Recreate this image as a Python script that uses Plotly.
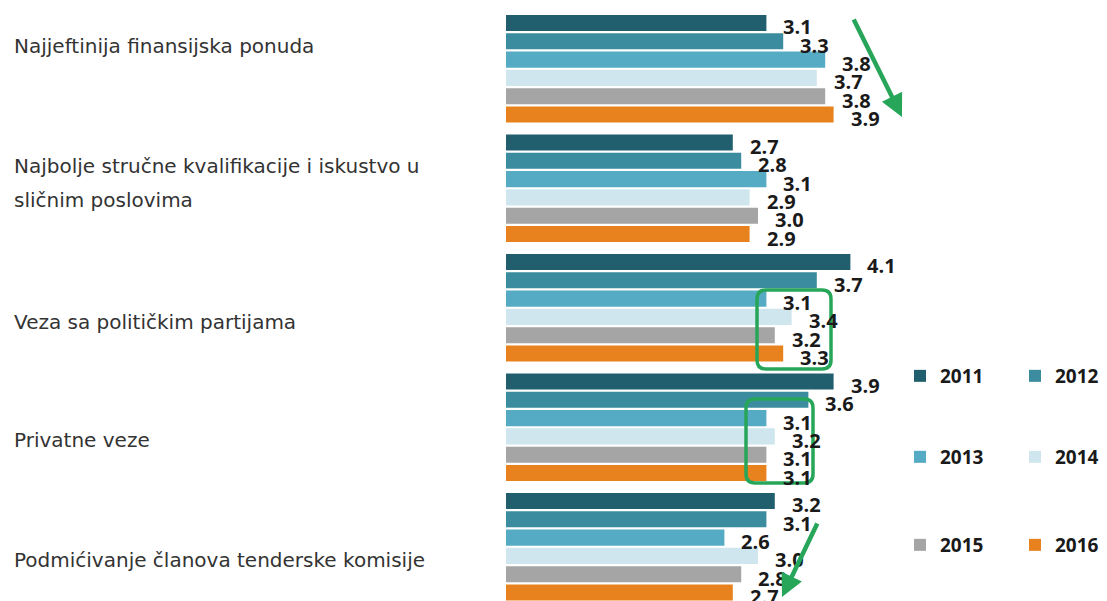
import plotly.graph_objects as go

categories = [
    "Najjeftinija finansijska ponuda",
    "Najbolje stručne kvalifikacije i iskustvo u sličnim poslovima",
    "Veza sa političkim partijama",
    "Privatne veze",
    "Podmićivanje članova tenderske komisije",
]
category_lines = [
    ["Najjeftinija finansijska ponuda"],
    ["Najbolje stručne kvalifikacije i iskustvo u", "sličnim poslovima"],
    ["Veza sa političkim partijama"],
    ["Privatne veze"],
    ["Podmićivanje članova tenderske komisije"],
]
years = ["2011", "2012", "2013", "2014", "2015", "2016"]
v2011 = [3.1, 2.7, 4.1, 3.9, 3.2]
v2012 = [3.3, 2.8, 3.7, 3.6, 3.1]
v2013 = [3.8, 3.1, 3.1, 3.1, 2.6]
v2014 = [3.7, 2.9, 3.4, 3.2, 3.0]
v2015 = [3.8, 3.0, 3.2, 3.1, 2.8]
v2016 = [3.9, 2.9, 3.3, 3.1, 2.7]
series = [v2011, v2012, v2013, v2014, v2015, v2016]

colors = ["#215f6e", "#3a8c9e", "#55abc3", "#cfe6ef", "#a5a5a5", "#e8821e"]
legend_ids = ["legend", "legend", "legend2", "legend2", "legend3", "legend3"]

W, H = 1107, 601
ML, MT = 506, 9
px_per_unit = 84.0
cat_px = 119.5
plot_w = W - ML
plot_h = H - MT
x_max = plot_w / px_per_unit
y_bottom = -0.5 + plot_h / cat_px

bargap = 0.08
bargroupgap = 0.12
n = len(series)
slot = (1 - bargap) / n

ypos = list(range(len(categories)))

fig = go.Figure()
for k, (yr, vals) in enumerate(zip(years, series)):
    fig.add_trace(go.Bar(
        x=vals, y=ypos, orientation="h", name=yr,
        marker=dict(color=colors[k], line=dict(width=0)),
        legend=legend_ids[k], hoverinfo="x+name",
    ))

annotations = []
val_font = dict(family="Open Sans", size=20, color="#1a1a1a", weight="bold")
for k, vals in enumerate(series):
    off = -(1 - bargap) / 2 + (k + 0.5) * slot
    for i, v in enumerate(vals):
        annotations.append(dict(
            x=v, y=i + off, xref="x", yref="y", text=f"{v:.1f}",
            showarrow=False, xanchor="left", yanchor="middle",
            xshift=15, yshift=-4, font=val_font,
        ))

# category labels on the left (pixel offsets from group centre)
label_offsets = [[-23], [-22, 12], [14], [12.5], [13]]
cat_font = dict(family="DejaVu Sans", size=20, color="#333333")
for i, lines in enumerate(category_lines):
    for line, off in zip(lines, label_offsets[i]):
        annotations.append(dict(
            x=(12 - ML) / plot_w, xref="paper", y=i + off / cat_px, yref="y",
            text=line, showarrow=False, xanchor="left", yanchor="middle",
            font=cat_font,
        ))

green = "#27a65a"
def to_x(px):
    return (px - ML) / px_per_unit
def to_y(py):
    return (py - MT) / cat_px - 0.5

# arrows
for (tx, ty, hx, hy) in [(853, 18, 902, 117), (818, 522, 782, 597)]:
    annotations.append(dict(
        x=to_x(hx), y=to_y(hy), ax=to_x(tx), ay=to_y(ty),
        xref="x", yref="y", axref="x", ayref="y", text="",
        showarrow=True, arrowhead=2, arrowsize=1.0, arrowwidth=4.5,
        arrowcolor=green, standoff=0,
    ))

shapes = []
def rounded(x0, y0, x1, y1, r=9):
    X0, X1 = to_x(x0), to_x(x1)
    Y0, Y1 = to_y(y0), to_y(y1)
    rx, ry = r / px_per_unit, r / cat_px
    return (f"M{X0+rx},{Y0} L{X1-rx},{Y0} Q{X1},{Y0} {X1},{Y0+ry} "
            f"L{X1},{Y1-ry} Q{X1},{Y1} {X1-rx},{Y1} L{X0+rx},{Y1} "
            f"Q{X0},{Y1} {X0},{Y1-ry} L{X0},{Y0+ry} Q{X0},{Y0} {X0+rx},{Y0} Z")
for box in [(757, 290, 831, 369), (746, 399, 813, 483)]:
    shapes.append(dict(type="path", xref="x", yref="y", path=rounded(*box),
                       line=dict(color=green, width=3.5), layer="above"))

leg_font = dict(family="Open Sans", size=19, color="#1a1a1a", weight="bold")
def leg(yc):
    return dict(x=(900 - ML) / plot_w, y=(H - yc) / plot_h, xanchor="left",
                yanchor="middle", orientation="h", font=leg_font,
                entrywidth=70, entrywidthmode="pixels",
                bgcolor="rgba(0,0,0,0)", borderwidth=0, traceorder="normal")

fig.update_layout(
    width=W, height=H,
    margin=dict(l=ML, r=0, t=MT, b=0, pad=0, autoexpand=False),
    paper_bgcolor="white", plot_bgcolor="white",
    barmode="group", bargap=bargap, bargroupgap=bargroupgap,
    xaxis=dict(range=[0, x_max], visible=False, showgrid=False, zeroline=False),
    yaxis=dict(range=[y_bottom, -0.5], visible=False, showgrid=False, zeroline=False),
    showlegend=True,
    legend=leg(376), legend2=leg(457), legend3=leg(545),
    annotations=annotations, shapes=shapes,
)

fig.write_html("out.html")
